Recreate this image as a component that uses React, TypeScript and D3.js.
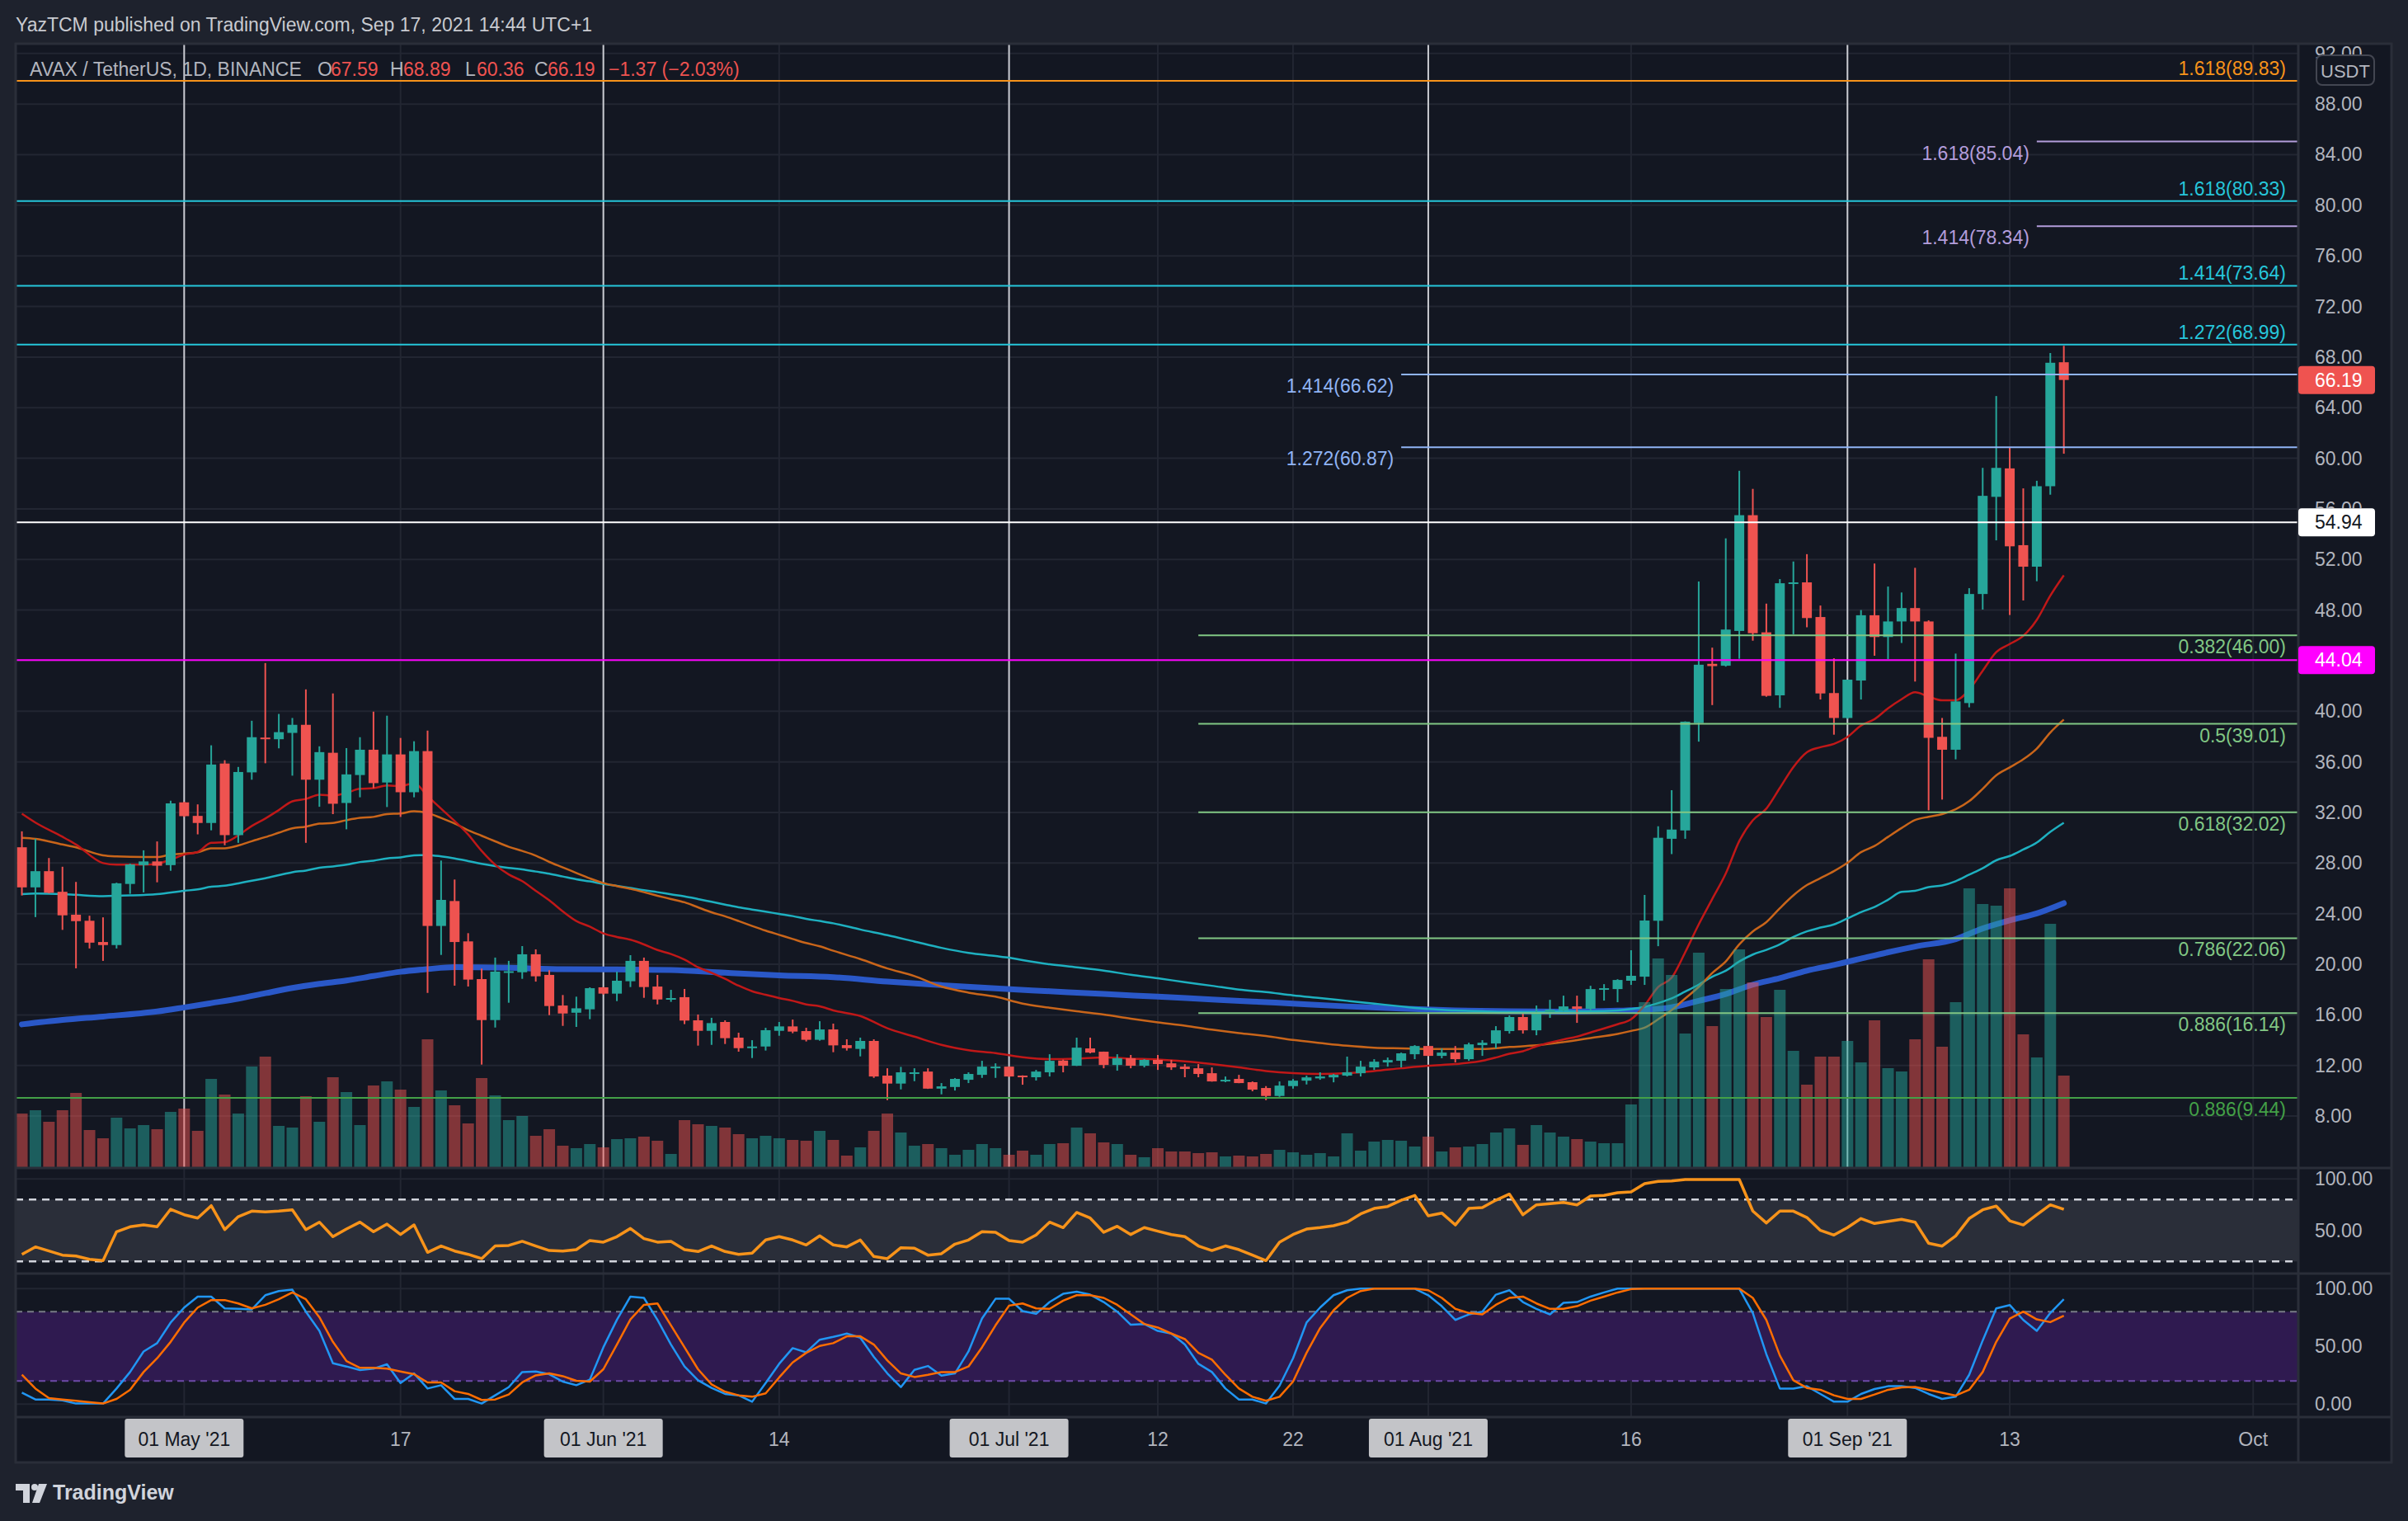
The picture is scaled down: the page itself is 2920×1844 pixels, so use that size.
import React from "react";
import * as d3 from "d3";

// ---------- data ----------
const FIRST_DAY = "2021-04-19"; // first daily candle

// [open, high, low, close]
const ohlc: [number, number, number, number][] = [
  [29.25, 30.51, 25.44, 26.08], [26.08, 29.92, 23.73, 27.36], [27.36, 28.4, 25.6, 25.65], [25.73, 27.71, 22.72, 23.87],
  [23.92, 26.51, 19.68, 23.41], [23.44, 23.84, 21.25, 21.71], [21.76, 23.71, 20.27, 21.52], [21.52, 26.45, 21.25, 26.4],
  [26.35, 27.95, 25.57, 27.89], [27.84, 29.01, 25.68, 28.13], [28.13, 29.71, 26.48, 27.79], [27.84, 32.93, 27.39, 32.72],
  [32.8, 32.85, 31.65, 31.71], [31.73, 32.64, 30.27, 31.17], [31.17, 37.31, 30.59, 35.79], [35.87, 36.13, 29.41, 30.21],
  [30.21, 35.6, 29.6, 35.2], [35.17, 39.25, 34.59, 37.95], [37.92, 43.81, 35.89, 37.79], [37.79, 39.79, 37.07, 38.35],
  [38.29, 39.47, 34.91, 38.93], [38.93, 41.73, 29.6, 34.59], [34.59, 37.23, 32.45, 36.77], [36.72, 41.41, 31.87, 32.69],
  [32.75, 37.09, 30.67, 35.01], [34.96, 37.95, 33.2, 36.96], [36.96, 39.97, 33.92, 34.32], [34.37, 39.65, 32.43, 36.59],
  [36.59, 37.89, 31.65, 33.6], [33.6, 37.63, 33.2, 36.85], [36.85, 38.48, 17.74, 23.03], [23.03, 28.2, 20.74, 25.09],
  [25.0, 26.7, 18.31, 21.76], [21.81, 22.46, 18.24, 18.79], [18.83, 19.66, 12.07, 15.59], [15.59, 20.53, 15.0, 19.42],
  [19.4, 20.27, 16.96, 19.45], [19.37, 21.44, 18.85, 20.79], [20.79, 21.18, 18.63, 19.05], [19.16, 19.53, 15.98, 16.7],
  [16.74, 17.57, 15.13, 16.11], [16.17, 17.44, 15.05, 16.52], [16.44, 18.18, 15.66, 18.11], [18.18, 18.2, 17.6, 17.68],
  [17.68, 19.42, 17.09, 18.7], [18.66, 20.72, 18.2, 20.27], [20.27, 20.53, 17.35, 18.2], [18.24, 19.16, 16.83, 17.22],
  [17.3, 17.98, 17.03, 17.33], [17.4, 18.05, 15.27, 15.55], [15.57, 16.03, 13.57, 14.74], [14.74, 15.77, 13.63, 15.35],
  [15.44, 15.57, 13.7, 14.16], [14.2, 14.59, 13.09, 13.37], [13.4, 14.0, 12.59, 13.5], [13.5, 14.98, 13.18, 14.79],
  [14.74, 15.44, 14.35, 15.09], [15.09, 15.63, 14.55, 14.68], [14.72, 14.98, 13.9, 14.03], [14.03, 15.5, 13.96, 14.85],
  [14.85, 15.31, 13.05, 13.59], [13.61, 14.07, 13.18, 13.37], [13.31, 14.2, 12.72, 13.94], [13.94, 14.07, 11.02, 11.13],
  [11.2, 11.78, 9.26, 10.57], [10.57, 11.89, 10.11, 11.46], [11.4, 11.78, 10.76, 11.46], [11.52, 11.78, 10.15, 10.17],
  [10.17, 10.61, 9.72, 10.35], [10.3, 11.0, 10.02, 10.94], [10.87, 11.46, 10.61, 11.33], [11.26, 12.37, 11.02, 11.91],
  [11.87, 12.17, 11.02, 11.91], [11.91, 11.93, 11.1, 11.13], [11.2, 11.22, 10.48, 11.13], [11.07, 11.65, 10.81, 11.52],
  [11.46, 12.89, 11.13, 12.37], [12.39, 12.46, 11.46, 11.98], [11.98, 14.2, 11.96, 13.41], [13.35, 14.2, 12.96, 13.02],
  [13.09, 13.1, 11.78, 12.04], [12.04, 12.89, 11.59, 12.57], [12.57, 12.83, 11.78, 11.98], [11.98, 12.5, 11.85, 12.44],
  [12.44, 12.83, 11.65, 12.11], [12.17, 12.44, 11.65, 11.85], [11.91, 12.11, 11.07, 11.72], [11.78, 12.11, 11.07, 11.33],
  [11.39, 11.85, 10.72, 10.74], [10.74, 11.13, 10.68, 10.87], [10.94, 11.26, 10.6, 10.61], [10.68, 10.74, 9.96, 10.09],
  [10.22, 10.37, 9.26, 9.59], [9.59, 10.74, 9.52, 10.41], [10.37, 10.93, 10.17, 10.8], [10.8, 11.2, 10.5, 11.06],
  [10.98, 11.46, 10.87, 11.13], [11.06, 11.33, 10.67, 11.26], [11.2, 12.7, 11.13, 11.46], [11.39, 12.37, 11.13, 11.91],
  [11.85, 12.5, 11.65, 12.3], [12.24, 12.63, 11.91, 12.43], [12.37, 13.02, 11.85, 12.96], [12.89, 13.61, 12.5, 13.54],
  [13.54, 13.56, 12.74, 12.76], [12.76, 13.35, 12.57, 13.02], [13.02, 13.54, 12.24, 12.5], [12.5, 13.8, 12.37, 13.67],
  [13.61, 14.0, 12.76, 13.8], [13.74, 15.11, 13.35, 14.78], [14.72, 15.96, 14.52, 15.83], [15.83, 16.09, 14.52, 14.78],
  [14.78, 16.74, 14.39, 16.09], [16.22, 17.19, 15.76, 16.41], [16.35, 17.52, 16.28, 16.67], [16.67, 17.52, 15.37, 16.48],
  [16.48, 18.3, 16.35, 18.04], [17.98, 18.43, 17.13, 18.11], [18.04, 18.82, 17.0, 18.76], [18.7, 21.11, 18.37, 19.09],
  [19.02, 25.48, 18.37, 23.46], [23.44, 30.91, 21.43, 30.0], [29.92, 33.76, 28.71, 30.65], [30.58, 39.2, 29.92, 39.18],
  [39.07, 50.26, 37.6, 43.68], [43.75, 45.03, 40.49, 43.57], [43.6, 53.67, 43.53, 46.46], [46.35, 59.01, 44.15, 55.5],
  [55.5, 57.58, 45.58, 46.17], [46.24, 48.51, 41.15, 41.22], [41.26, 50.45, 40.27, 50.12], [50.1, 51.84, 46.09, 50.19],
  [50.19, 52.42, 46.64, 47.37], [47.45, 48.36, 40.93, 41.41], [41.44, 44.19, 38.15, 39.47], [39.47, 42.5, 39.4, 42.5],
  [42.43, 48.0, 40.93, 47.59], [47.59, 51.68, 44.39, 45.87], [45.87, 49.86, 44.13, 47.1], [47.1, 49.39, 45.4, 48.16],
  [48.16, 51.34, 42.35, 47.1], [47.1, 47.19, 32.17, 37.9], [37.98, 39.47, 33.02, 36.96], [36.96, 44.56, 36.2, 40.78],
  [40.65, 49.73, 40.31, 49.27], [49.27, 59.24, 48.04, 57.03], [56.95, 64.92, 53.51, 59.24], [59.2, 60.85, 47.61, 53.04],
  [53.13, 57.62, 48.76, 51.43], [51.43, 58.22, 50.28, 57.79], [57.79, 68.32, 57.12, 67.55], [67.59, 68.89, 60.36, 66.19],
];

// daily volume (x100k AVAX)
const volumes: number[] = [
  65, 69, 55, 69, 90, 45, 35, 60, 47, 51, 46, 67, 71, 44, 107, 88, 65, 122, 134, 50, 48, 86, 55, 109, 91, 51, 99, 104, 94, 73, 155,
  93, 75, 53, 108, 87, 57, 62, 38, 46, 26, 23, 28, 24, 34, 35, 37, 32, 16, 57, 52, 50, 48, 40, 35, 38, 35, 33, 32, 44, 33,
  14, 24, 44, 65, 42, 26, 28, 23, 15, 21, 28, 23, 15, 20, 15, 28, 29, 48, 41, 30, 28, 15, 12, 23, 19, 19, 17, 18, 13, 14, 13,
  16, 21, 18, 15, 17, 13, 41, 20, 31, 33, 32, 25, 37, 19, 24, 25, 28, 42, 47, 27, 51, 42, 37, 34, 31, 29, 29, 76, 200, 253,
  233, 162, 260, 171, 216, 264, 224, 182, 215, 141, 100, 134, 134, 153, 127, 178, 120, 116, 155, 252, 146, 200, 338, 319, 317, 338, 161, 133, 295, 111,
];

const rsiValues: number[] = [
  26.9, 34.1, 30.1, 26.1, 25.3, 22.1, 20.8, 48.8, 53.6, 55.4, 53.6, 70.6, 65.3, 62.1, 74.1, 50.9, 63.4, 68.8, 68.0, 68.8,
  70.1, 50.9, 58.1, 44.0, 51.4, 58.1, 48.8, 56.2, 46.1, 55.4, 28.8, 35.0, 30.1, 26.9, 22.7, 35.0, 35.5, 39.5, 35.0, 30.6,
  30.1, 31.4, 40.3, 38.7, 44.0, 52.0, 42.1, 38.7, 39.5, 31.4, 29.6, 35.0, 29.6, 26.9, 28.0, 40.8, 44.0, 40.8, 36.0, 44.8,
  36.0, 34.1, 40.8, 24.8, 22.7, 33.3, 32.8, 26.1, 27.5, 36.8, 40.8, 48.8, 48.3, 40.3, 38.7, 45.6, 58.1, 52.8, 67.5, 62.1,
  48.3, 54.1, 46.1, 52.8, 49.3, 46.1, 44.0, 35.0,
  30.6, 35.0, 31.4, 26.1, 20.8, 38.7, 46.1, 51.4, 52.8, 54.6, 58.1, 66.1, 71.4, 73.3, 79.4, 84.0, 64.2, 66.9, 55.4, 71.4,
  72.2, 79.4, 85.3, 65.3, 74.9, 76.0, 77.3, 74.9, 83.4, 84.0, 86.6, 87.4, 95.4, 97.6, 98.1, 99.4, 99.4, 99.4, 99.4, 99.4,
  68.8, 57.3, 68.8, 68.8, 62.6, 50.1, 45.6, 52.8, 61.6, 56.8, 58.9, 60.8, 58.1, 37.6, 34.9, 44.8, 61.6, 70.1, 73.6, 59.4,
  55.4, 65.3, 74.9, 70.6,
];

const stochK: number[] = [
  10.0, 4.0, 4.0, 3.3, 0.5, 0.5, 0.5, 13.5, 27.8, 45.6, 52.8, 70.6, 83.6, 93.1, 93.1, 82.9, 82.5, 82.0, 94.3, 97.9,
  99.1, 80.1, 63.4, 35.4, 32.6, 29.5, 30.7, 34.5, 18.3, 26.6, 13.5, 16.4, 4.5, 4.5, 0.5, 7.6, 14.7, 27.8, 28.3, 25.9,
  19.5, 16.4, 21.2, 49.2, 73.0, 93.1, 92.0, 73.0, 51.6, 32.6, 20.7, 14.0, 8.8, 7.6, 2.1, 18.3, 34.9, 48.5, 44.9, 55.8,
  58.2, 61.1, 57.5, 40.9, 26.6, 14.7, 29.7, 33.0, 24.7, 26.6, 45.6, 74.1, 91.2, 91.2, 80.6, 78.2, 88.4, 95.5, 97.4, 94.8,
  88.4, 80.1, 68.7, 69.4, 63.4, 61.1, 51.6, 34.9,
  27.8, 13.5, 4.0, 4.0, 0.5, 15.9, 39.7, 70.6, 83.6, 94.3, 98.6, 100, 100, 100, 100, 100, 94.3, 84.8, 72.9, 77.7,
  80.1, 94.8, 98.6, 88.4, 82.5, 77.7, 87.7, 88.4, 93.1, 96.7, 100, 100, 100, 100, 100, 100, 100, 100, 100, 100,
  78.9, 43.3, 13.5, 13.5, 15.5, 8.8, 2.1, 2.1, 8.8, 13.1, 15.5, 15.5, 14.0, 8.8, 4.5, 6.4, 25.4, 55.1, 82.9, 85.8,
  72.9, 63.4, 78.9, 90.8,
];

const stochD: number[] = [
  25.4, 13.5, 5.2, 4.0, 2.9, 1.7, 0.5, 4.5, 12.4, 27.8, 39.7, 53.9, 70.6, 83.6, 90.1, 90.1, 87.2, 82.9, 86.0, 90.8,
  96.7, 90.8, 75.3, 53.9, 37.3, 31.4, 31.4, 30.7, 28.3, 25.9, 18.8, 18.8, 11.2, 8.8, 3.6, 4.0, 8.3, 18.8, 24.9, 26.6,
  24.2, 20.2, 19.5, 30.2, 51.6, 73.4, 86.0, 87.2, 68.2, 49.2, 30.2, 17.1, 10.7, 7.6, 6.4, 9.3, 23.1, 36.1, 44.4, 50.4,
  52.8, 58.7, 58.7, 51.6, 37.8, 26.6, 23.5, 25.4, 27.8, 27.8, 32.6, 49.2, 68.2, 85.3, 87.2, 82.9, 82.5, 89.6, 94.3, 94.3,
  92.0, 86.0, 77.7, 69.4, 66.3, 61.1, 56.3, 44.4,
  38.5, 25.4, 13.5, 6.4, 2.9, 6.4, 19.5, 44.4, 65.8, 81.3, 92.0, 97.9, 100, 100, 100, 100, 98.6, 92.0, 82.5, 78.9,
  77.7, 86.0, 92.0, 93.1, 87.2, 82.5, 82.5, 84.8, 89.6, 93.1, 96.7, 99.6, 100, 100, 100, 100, 100, 100, 100, 100,
  92.0, 72.9, 42.1, 20.7, 14.0, 12.4, 7.6, 4.5, 4.5, 8.3, 12.4, 14.5, 14.8, 12.4, 9.8, 7.4, 12.4, 27.8, 53.9, 74.1,
  80.1, 73.4, 71.0, 76.5,
];

// moving averages: [candle index, price]
const maRed: [number, number][] = [
  [0, 31.9], [1, 31.2], [3, 30.08], [4, 29.47], [6, 28.0], [7, 27.87], [9, 27.87], [10, 27.95], [11, 28.27], [12, 28.67],
  [13, 28.88], [14, 29.6], [15, 29.65], [16, 30.19], [17, 30.93], [18, 31.52], [19, 32.19], [20, 32.88], [21, 33.07],
  [22, 33.41], [23, 33.33], [24, 33.55], [25, 33.87], [26, 33.92], [27, 34.13], [28, 34.08], [29, 34.32], [30, 33.3],
  [31, 32.3], [33, 30.26], [34, 28.96], [35, 27.87], [36, 27.1], [37, 26.57], [38, 25.81], [39, 25.05], [40, 24.18],
  [41, 23.42], [42, 22.98], [43, 22.44], [44, 22.16], [45, 21.94], [46, 21.57], [47, 21.13], [48, 20.81], [49, 20.37],
  [50, 19.76], [51, 19.33], [52, 18.85], [53, 18.31], [54, 17.87], [55, 17.59], [56, 17.33], [57, 17.11], [58, 16.83],
  [59, 16.68], [60, 16.35], [62, 15.91], [64, 14.94], [66, 14.28], [68, 13.63], [70, 13.2], [72, 12.98], [74, 12.65],
  [76, 12.5], [78, 12.54], [80, 12.63], [82, 12.54], [84, 12.48], [86, 12.33], [88, 12.11], [90, 11.85], [92, 11.56],
  [94, 11.39], [96, 11.33], [98, 11.39], [100, 11.56], [102, 11.78], [104, 11.98], [106, 12.11], [108, 12.37], [109, 12.63],
  [110, 12.93], [111, 13.13], [112, 13.52], [114, 14.06], [115, 14.28], [116, 14.61], [118, 15.26], [119, 15.65],
  [120, 16.75], [121, 18.21], [122, 18.94], [123, 20.95], [124, 23.15], [125, 25.16], [126, 27.17], [127, 29.74],
  [128, 31.38], [129, 32.3], [130, 33.94], [131, 35.59], [132, 36.76], [133, 37.16], [134, 37.42], [135, 37.97],
  [136, 38.87], [137, 39.38], [138, 40.23], [139, 40.95], [140, 41.5], [141, 41.16], [142, 40.87], [143, 40.87],
  [144, 41.71], [145, 43.2], [146, 44.68], [147, 45.32], [148, 45.96], [149, 47.23], [150, 49.14], [151, 50.75],
];

const maOrange: [number, number][] = [
  [0, 30.0], [1, 29.92], [3, 29.47], [4, 29.25], [6, 28.61], [7, 28.53], [9, 28.48], [10, 28.48], [11, 28.67], [12, 28.75],
  [13, 28.85], [14, 29.17], [15, 29.17], [16, 29.39], [17, 29.73], [18, 30.05], [19, 30.4], [20, 30.75], [21, 30.88],
  [22, 31.12], [23, 31.17], [24, 31.39], [25, 31.57], [26, 31.65], [27, 31.87], [28, 31.92], [29, 32.1], [30, 31.95],
  [31, 31.57], [32, 31.13], [33, 30.59], [34, 30.16], [35, 29.72], [36, 29.29], [37, 28.96], [38, 28.59], [39, 28.09],
  [40, 27.66], [41, 27.22], [42, 26.79], [43, 26.42], [44, 26.18], [45, 25.96], [46, 25.7], [47, 25.42], [48, 25.16],
  [49, 24.9], [50, 24.5], [51, 24.11], [52, 23.79], [53, 23.42], [54, 23.03], [55, 22.66], [56, 22.33], [57, 22.0],
  [58, 21.68], [59, 21.42], [60, 21.07], [62, 20.41], [64, 19.67], [66, 19.07], [68, 18.24], [70, 17.76], [72, 17.44],
  [74, 16.89], [76, 16.57], [78, 16.28], [80, 16.02], [82, 15.7], [84, 15.41], [86, 15.15], [88, 14.83], [90, 14.56],
  [92, 14.33], [94, 14.02], [96, 13.78], [98, 13.56], [100, 13.41], [102, 13.35], [104, 13.3], [106, 13.3], [108, 13.3],
  [110, 13.46], [112, 13.59], [114, 13.85], [116, 14.17], [118, 14.5], [119, 14.73], [120, 14.99], [121, 15.65],
  [122, 16.38], [123, 17.3], [124, 18.21], [125, 19.31], [126, 20.22], [127, 21.58], [128, 22.6], [129, 23.33],
  [130, 24.43], [131, 25.45], [132, 26.26], [133, 26.81], [134, 27.36], [135, 28.02], [136, 28.86], [137, 29.35],
  [138, 30.07], [139, 30.77], [140, 31.4], [141, 31.66], [142, 31.87], [143, 32.25], [144, 32.89], [145, 33.87],
  [146, 34.93], [147, 35.56], [148, 36.2], [149, 37.05], [150, 38.32], [151, 39.34],
];

const maTeal: [number, number][] = [
  [0, 25.55], [1, 25.6], [3, 25.55], [4, 25.49], [6, 25.39], [8, 25.44], [10, 25.55], [12, 25.81], [13, 25.92], [14, 26.13],
  [15, 26.21], [16, 26.4], [17, 26.61], [18, 26.8], [19, 27.04], [20, 27.28], [21, 27.41], [22, 27.63], [23, 27.73],
  [24, 27.87], [25, 28.08], [26, 28.19], [27, 28.37], [28, 28.45], [29, 28.61], [30, 28.63], [31, 28.53], [32, 28.37],
  [33, 28.16], [34, 27.94], [35, 27.76], [36, 27.61], [37, 27.5], [38, 27.33], [39, 27.16], [40, 26.94], [41, 26.72],
  [42, 26.55], [43, 26.35], [44, 26.2], [45, 26.03], [46, 25.85], [47, 25.7], [48, 25.53], [49, 25.37], [50, 25.16],
  [51, 24.94], [52, 24.72], [53, 24.5], [54, 24.33], [55, 24.16], [56, 23.98], [57, 23.81], [58, 23.59], [59, 23.42],
  [60, 23.24], [62, 22.75], [64, 22.3], [66, 21.8], [68, 21.3], [70, 20.9], [72, 20.65], [73, 20.52], [74, 20.33],
  [76, 20.0], [78, 19.76], [80, 19.5], [82, 19.17], [84, 18.89], [86, 18.59], [88, 18.3], [90, 18.0], [92, 17.8],
  [94, 17.54], [96, 17.33], [98, 17.11], [100, 16.89], [102, 16.67], [104, 16.46], [106, 16.35], [108, 16.28],
  [110, 16.24], [112, 16.24], [114, 16.28], [116, 16.28], [118, 16.35], [119, 16.46], [120, 16.63], [121, 16.93],
  [122, 17.3], [123, 17.84], [124, 18.39], [125, 19.02], [126, 19.49], [127, 20.22], [128, 20.77], [129, 21.14],
  [130, 21.58], [131, 22.16], [132, 22.6], [133, 22.9], [134, 23.15], [135, 23.63], [136, 24.12], [137, 24.53],
  [138, 25.1], [139, 25.72], [140, 25.8], [141, 26.1], [142, 26.23], [143, 26.57], [144, 27.08], [145, 27.59],
  [146, 28.22], [147, 28.56], [148, 29.07], [149, 29.62], [150, 30.47], [151, 31.19],
];

const maBlue: [number, number][] = [
  [0, 15.25], [3, 15.6], [6, 15.87], [10, 16.27], [12, 16.59], [14, 16.93], [16, 17.28], [18, 17.71], [20, 18.13],
  [22, 18.45], [24, 18.72], [26, 19.07], [28, 19.41], [30, 19.62], [32, 19.77], [36, 19.72], [40, 19.61], [44, 19.59],
  [48, 19.55], [52, 19.33], [56, 19.13], [60, 18.98], [64, 18.63], [68, 18.35], [72, 18.09], [76, 17.87], [80, 17.65],
  [84, 17.44], [88, 17.22], [91, 17.06], [94, 16.89], [98, 16.67], [102, 16.5], [106, 16.35], [110, 16.28], [114, 16.26],
  [118, 16.33], [120, 16.41], [122, 16.6], [124, 17.11], [126, 17.65], [128, 18.39], [130, 18.9], [132, 19.49],
  [134, 19.95], [136, 20.45], [138, 20.95], [140, 21.4], [143, 21.99], [145, 22.83], [147, 23.47], [149, 24.02], [151, 24.83],
];

const priceTicks = d3.range(8, 93, 4);

const timeTicks: { date: string; label: string; month: boolean }[] = [
  { date: "2021-05-01", label: "01 May '21", month: true },
  { date: "2021-05-17", label: "17", month: false },
  { date: "2021-06-01", label: "01 Jun '21", month: true },
  { date: "2021-06-14", label: "14", month: false },
  { date: "2021-07-01", label: "01 Jul '21", month: true },
  { date: "2021-07-12", label: "12", month: false },
  { date: "2021-07-22", label: "22", month: false },
  { date: "2021-08-01", label: "01 Aug '21", month: true },
  { date: "2021-08-16", label: "16", month: false },
  { date: "2021-09-01", label: "01 Sep '21", month: true },
  { date: "2021-09-13", label: "13", month: false },
  { date: "2021-10-01", label: "Oct", month: false },
];

const verticalMarkers = ["2021-05-01", "2021-06-01", "2021-07-01", "2021-08-01", "2021-09-01"];

const fibLevels: { ratio: string; price: number; kind: string }[] = [
  { ratio: "1.618", price: 89.83, kind: "orange" },
  { ratio: "1.618", price: 85.04, kind: "lavender" },
  { ratio: "1.618", price: 80.33, kind: "cyan" },
  { ratio: "1.414", price: 78.34, kind: "lavender" },
  { ratio: "1.414", price: 73.64, kind: "cyan" },
  { ratio: "1.272", price: 68.99, kind: "cyan" },
  { ratio: "1.414", price: 66.62, kind: "blue" },
  { ratio: "1.272", price: 60.87, kind: "blue" },
  { ratio: "0.382", price: 46.0, kind: "green" },
  { ratio: "0.5", price: 39.01, kind: "green" },
  { ratio: "0.618", price: 32.02, kind: "green" },
  { ratio: "0.786", price: 22.06, kind: "green" },
  { ratio: "0.886", price: 16.14, kind: "green" },
  { ratio: "0.886", price: 9.44, kind: "darkgreen" },
];

const horizontalLevels = [
  { price: 54.94, color: "#ffffff", text: "#131722" },
  { price: 44.04, color: "#ff00ff", text: "#ffffff" },
];

const lastClose = 66.19;

// ---------- styling ----------
const fibStyle: Record<string, { color: string; start: string | null; label: "above" | "left" | "below" }> = {
  orange: { color: "#f7931a", start: null, label: "above" },
  lavender: { color: "#b39ddb", start: "2021-09-15", label: "left" },
  cyan: { color: "#26c6da", start: null, label: "above" },
  blue: { color: "#90b4f5", start: "2021-07-30", label: "left" },
  green: { color: "#81c784", start: "2021-07-15", label: "below" },
  darkgreen: { color: "#43a047", start: null, label: "below" },
};

const FONT = "'Liberation Sans', Arial, sans-serif";
const UP = "#26a69a";
const DOWN = "#ef5350";
const GRID = "#222632";
const TXT = "#b2b5be";

const W = 2920;
const H = 1844;
const L = 19;
const R = 2787;
const AXR = 2900;
const MAIN_T = 53;
const MAIN_B = 1415;
const RSI_T = 1417;
const RSI_B = 1543;
const ST_T = 1545;
const ST_B = 1718;
const TA_B = 1773;
const BOX_H = 34;

const utc = (s: string) => new Date(s + "T00:00:00Z");

export default function App() {
  const first = utc(FIRST_DAY);
  const dates = ohlc.map((_, i) => d3.utcDay.offset(first, i));
  const DAY = 864e5;
  const may1 = Date.UTC(2021, 4, 1);
  const x = d3
    .scaleUtc()
    .domain([new Date(may1 - 12.46 * DAY), new Date(may1 + 156.34 * DAY)])
    .range([L, R]);
  const y = d3.scaleLinear().domain([8, 92]).range([1353.1, 64.8]);
  const vy = d3.scaleLinear().domain([0, d3.max(volumes) as number]).range([MAIN_B, MAIN_B - 338]);
  const ry = d3.scaleLinear().domain([0, 100]).range([1554.3, 1429.3]);
  const sy = d3.scaleLinear().domain([0, 100]).range([1702.3, 1562.3]);

  const maLine = d3
    .line<[number, number]>()
    .x((p) => x(d3.utcDay.offset(first, p[0])))
    .y((p) => y(p[1]))
    .curve(d3.curveMonotoneX);
  const rsiLine = d3.line<number>().x((_, i) => x(dates[i])).y((v) => ry(v));
  const stLine = d3.line<number>().x((_, i) => x(dates[i])).y((v) => sy(v));

  const bodyW = 12;
  const volW = 14;

  // price-axis boxes hide the tick labels beneath them
  const boxCenters = [...horizontalLevels.map((h) => y(h.price)), y(lastClose)];
  const tickLabels = priceTicks
    .map((t) => {
      const yt = y(t);
      const near = boxCenters.find((b) => Math.abs(b - yt) < BOX_H / 2 + 11);
      return { t, yt, near };
    })
    .filter((d) => d.near === undefined || Math.abs(d.near - d.yt) > 8);

  return (
    <svg
      width={W}
      height={H}
      viewBox={`0 0 ${W} ${H}`}
      style={{ position: "absolute", left: 0, top: 0, display: "block" }}
      fontFamily={FONT}
    >
      <defs>
        <clipPath id="clipMain">
          <rect x={L} y={MAIN_T} width={R - L} height={MAIN_B - MAIN_T} />
        </clipPath>
        <clipPath id="clipRsi">
          <rect x={L} y={RSI_T} width={R - L} height={RSI_B - RSI_T} />
        </clipPath>
        <clipPath id="clipSt">
          <rect x={L} y={ST_T} width={R - L} height={ST_B - ST_T} />
        </clipPath>
        <clipPath id="clipAxis">
          <rect x={R} y={MAIN_T} width={AXR - R} height={MAIN_B - MAIN_T} />
        </clipPath>
        {tickLabels
          .filter((d) => d.near !== undefined)
          .map((d) => {
            const nb = d.near as number;
            const above = d.yt < nb;
            const cy = above ? MAIN_T : nb + BOX_H / 2;
            const ch = above ? nb - BOX_H / 2 - MAIN_T : MAIN_B - cy;
            return (
              <clipPath key={"tc" + d.t} id={"tickClip" + d.t}>
                <rect x={R} y={cy} width={AXR - R} height={ch} />
              </clipPath>
            );
          })}
      </defs>

      <rect x={0} y={0} width={W} height={H} fill="#1e222d" />
      <rect x={L} y={MAIN_T} width={AXR - L} height={TA_B - MAIN_T} fill="#131722" />

      {/* header */}
      <text x={19} y={38} fontSize={23} fill="#c8cad0">
        YazTCM published on TradingView.com, Sep 17, 2021 14:44 UTC+1
      </text>

      {/* grid */}
      <g stroke={GRID} strokeWidth={2}>
        {priceTicks.map((t) => (
          <line key={"hg" + t} x1={L} x2={R} y1={y(t)} y2={y(t)} />
        ))}
        {timeTicks.map((t) => (
          <line key={"vg" + t.date} x1={x(utc(t.date))} x2={x(utc(t.date))} y1={MAIN_T} y2={ST_B} />
        ))}
        <line x1={L} x2={R} y1={ry(100)} y2={ry(100)} />
        <line x1={L} x2={R} y1={ry(50)} y2={ry(50)} />
        <line x1={L} x2={R} y1={sy(100)} y2={sy(100)} />
        <line x1={L} x2={R} y1={sy(50)} y2={sy(50)} />
        <line x1={L} x2={R} y1={sy(0)} y2={sy(0)} />
      </g>

      {/* main pane */}
      <g clipPath="url(#clipMain)">
        {verticalMarkers.map((d) => (
          <line key={"vm" + d} x1={x(utc(d))} x2={x(utc(d))} y1={MAIN_T} y2={MAIN_B} stroke="#c9cbd1" strokeWidth={2} />
        ))}
        <path d={maLine(maBlue) || ""} fill="none" stroke="#2a58c8" strokeWidth={7} strokeLinecap="round" />
        <path d={maLine(maTeal) || ""} fill="none" stroke="#1eb0c0" strokeWidth={2.5} />
        <path d={maLine(maOrange) || ""} fill="none" stroke="#c9651a" strokeWidth={2.5} />
        <path d={maLine(maRed) || ""} fill="none" stroke="#c01818" strokeWidth={2.5} />
        {volumes.map((v, i) => {
          const [o, , , c] = ohlc[i];
          const cx = x(dates[i]);
          return (
            <rect
              key={"v" + i}
              x={cx - volW / 2}
              y={vy(v)}
              width={volW}
              height={MAIN_B - vy(v)}
              fill={c >= o ? UP : DOWN}
              fillOpacity={0.5}
            />
          );
        })}
        {ohlc.map(([o, h, l, c], i) => {
          const cx = x(dates[i]);
          const col = c >= o ? UP : DOWN;
          const top = y(Math.max(o, c));
          const bh = Math.max(2, y(Math.min(o, c)) - top);
          return (
            <g key={"c" + i}>
              <line x1={cx} x2={cx} y1={y(h)} y2={y(l)} stroke={col} strokeWidth={2} />
              <rect x={cx - bodyW / 2} y={top} width={bodyW} height={bh} fill={col} />
            </g>
          );
        })}
        {fibLevels.map((f) => {
          const st = fibStyle[f.kind];
          const x1 = st.start ? x(utc(st.start)) : L;
          const yy = y(f.price);
          const label = `${f.ratio}(${f.price.toFixed(2)})`;
          let tx = R - 15;
          let ty = yy - 7;
          if (st.label === "left") {
            tx = x1 - 9;
            ty = yy + 22;
          } else if (st.label === "below") {
            ty = yy + 22;
          }
          return (
            <g key={"f" + f.price}>
              <line x1={x1} x2={R} y1={yy} y2={yy} stroke={st.color} strokeWidth={2} />
              <text x={tx} y={ty} fontSize={23} fill={st.color} textAnchor="end">
                {label}
              </text>
            </g>
          );
        })}
        {horizontalLevels.map((h) => (
          <line key={"hl" + h.price} x1={L} x2={R} y1={y(h.price)} y2={y(h.price)} stroke={h.color} strokeWidth={2} />
        ))}
      </g>

      {/* legend */}
      <text y={92} fontSize={23}>
        <tspan x={36} fill={TXT}>AVAX / TetherUS, 1D, BINANCE</tspan>
        <tspan x={385} fill={TXT}>O</tspan>
        <tspan x={401} fill={DOWN}>67.59</tspan>
        <tspan x={473} fill={TXT}>H</tspan>
        <tspan x={489} fill={DOWN}>68.89</tspan>
        <tspan x={564} fill={TXT}>L</tspan>
        <tspan x={578} fill={DOWN}>60.36</tspan>
        <tspan x={648} fill={TXT}>C</tspan>
        <tspan x={664} fill={DOWN}>66.19</tspan>
        <tspan x={738} fill={DOWN}>−1.37 (−2.03%)</tspan>
      </text>

      {/* RSI pane */}
      <g clipPath="url(#clipRsi)">
        <rect x={L} y={ry(80)} width={R - L} height={ry(20) - ry(80)} fill="#2a2e39" />
        <line x1={L} x2={R} y1={ry(80)} y2={ry(80)} stroke="#d1d4dc" strokeWidth={2.5} strokeDasharray="9 7" />
        <line x1={L} x2={R} y1={ry(20)} y2={ry(20)} stroke="#d1d4dc" strokeWidth={2.5} strokeDasharray="9 7" />
        <path d={rsiLine(rsiValues) || ""} fill="none" stroke="#f7931a" strokeWidth={3.5} strokeLinejoin="round" />
      </g>

      {/* Stoch RSI pane */}
      <g clipPath="url(#clipSt)">
        <rect x={L} y={sy(80)} width={R - L} height={sy(20) - sy(80)} fill="#2f1a50" />
        <line x1={L} x2={R} y1={sy(80)} y2={sy(80)} stroke="#787b86" strokeWidth={2} strokeDasharray="8 6" />
        <line x1={L} x2={R} y1={sy(20)} y2={sy(20)} stroke="#7e57c2" strokeOpacity={0.8} strokeWidth={2} strokeDasharray="8 6" />
        <path d={stLine(stochK) || ""} fill="none" stroke="#2196f3" strokeWidth={2.5} strokeLinejoin="round" />
        <path d={stLine(stochD) || ""} fill="none" stroke="#ff6d00" strokeWidth={2.5} strokeLinejoin="round" />
      </g>

      {/* pane borders */}
      <g stroke="#2a2e39" strokeWidth={3} fill="none">
        <rect x={L} y={MAIN_T} width={AXR - L} height={TA_B - MAIN_T} />
        <line x1={L} x2={AXR} y1={MAIN_B + 1} y2={MAIN_B + 1} />
        <line x1={L} x2={AXR} y1={RSI_B + 1} y2={RSI_B + 1} />
        <line x1={L} x2={AXR} y1={ST_B} y2={ST_B} />
        <line x1={R} x2={R} y1={MAIN_T} y2={TA_B} />
      </g>

      {/* price axis */}
      <g clipPath="url(#clipAxis)" fontSize={23}>
        {tickLabels.map((d) => (
          <g key={"pt" + d.t} clipPath={d.near !== undefined ? `url(#tickClip${d.t})` : undefined}>
            <text x={2807} y={d.yt} fill={TXT} dominantBaseline="central">
              {d3.format(".2f")(d.t)}
            </text>
          </g>
        ))}
        {horizontalLevels.map((h) => (
          <g key={"hb" + h.price}>
            <rect x={R} y={y(h.price) - BOX_H / 2} width={93} height={BOX_H} rx={4} fill={h.color} />
            <text x={2807} y={y(h.price)} fill={h.text} dominantBaseline="central">
              {h.price.toFixed(2)}
            </text>
          </g>
        ))}
        <rect x={R} y={y(lastClose) - BOX_H / 2} width={93} height={BOX_H} rx={4} fill={DOWN} />
        <text x={2807} y={y(lastClose)} fill="#ffffff" dominantBaseline="central">
          {lastClose.toFixed(2)}
        </text>
        <rect x={2809} y={67} width={70} height={36} rx={7} fill="#131722" stroke="#434651" strokeWidth={2} />
        <text x={2844} y={86} fill={TXT} textAnchor="middle" dominantBaseline="central" fontSize={22}>
          USDT
        </text>
      </g>

      {/* sub-pane axis labels */}
      <g fontSize={23} fill={TXT}>
        <text x={2807} y={ry(100)} dominantBaseline="central">100.00</text>
        <text x={2807} y={ry(50)} dominantBaseline="central">50.00</text>
        <text x={2807} y={sy(100)} dominantBaseline="central">100.00</text>
        <text x={2807} y={sy(50)} dominantBaseline="central">50.00</text>
        <text x={2807} y={sy(0)} dominantBaseline="central">0.00</text>
      </g>

      {/* time axis */}
      <g fontSize={23}>
        {timeTicks.map((t) => {
          const tx = x(utc(t.date));
          return (
            <g key={"tt" + t.date}>
              {t.month && <rect x={tx - 72} y={ST_B + 2} width={144} height={47} rx={3} fill="#c3c4c8" />}
              <text
                x={tx}
                y={1745}
                textAnchor="middle"
                dominantBaseline="central"
                fill={t.month ? "#131722" : TXT}
              >
                {t.label}
              </text>
            </g>
          );
        })}
      </g>

      {/* footer logo */}
      <g fill="#d1d4dc">
        <path d="M19 1799 h17 v23 h-8 v-15 h-9 z" />
        <circle cx={42} cy={1803} r={4} />
        <path d="M47 1799 h10 l-9 23 h-9 z" />
        <text x={64} y={1818} fontSize={25} fontWeight={600}>
          TradingView
        </text>
      </g>
    </svg>
  );
}
